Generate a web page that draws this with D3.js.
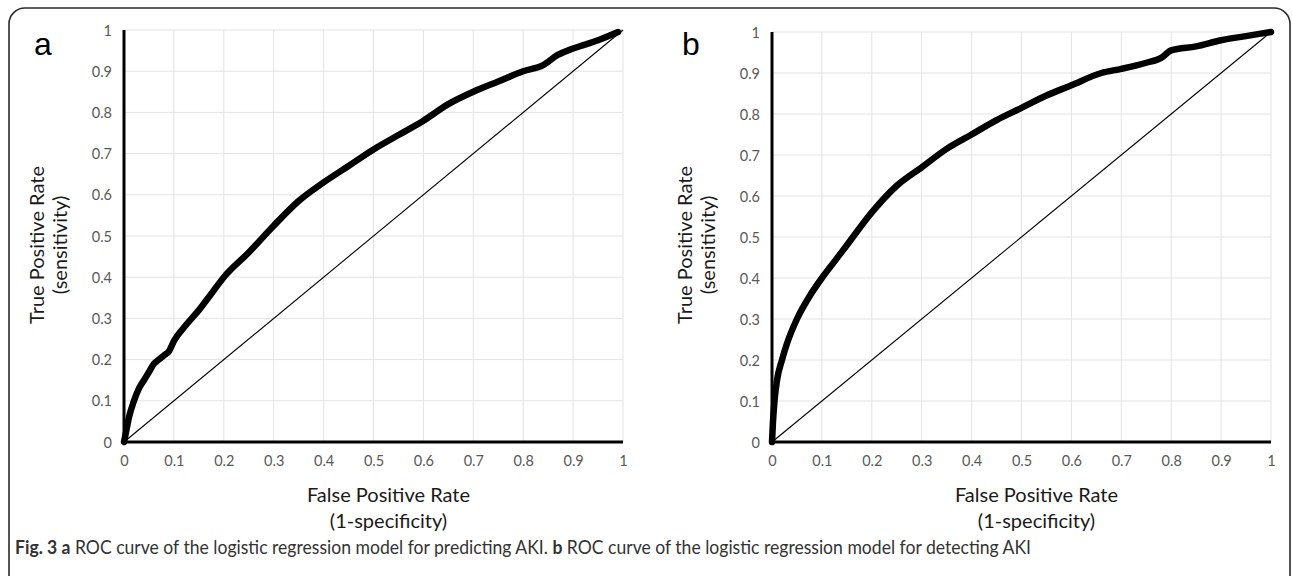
<!DOCTYPE html>
<html>
<head>
<meta charset="utf-8">
<script src="https://cdn.jsdelivr.net/npm/d3@7"></script>
<style>
	body { margin: 0; background: #fff; }
	svg { display: block; }
	.tick text { font-family: Lato, "Open Sans", sans-serif; font-size: 14.5px; fill: #595959; }
	.titre { font-family: Lato, "Open Sans", sans-serif; font-size: 20px; fill: #1a1a1a; }
</style>
</head>
<body>
<svg id="fig" width="1292" height="576"></svg>
<script>
"use strict";

// tick values shared by both axes
const graduations = [0, 0.1, 0.2, 0.3, 0.4, 0.5, 0.6, 0.7, 0.8, 0.9, 1];
const etiquettes = ["0", "0.1", "0.2", "0.3", "0.4", "0.5", "0.6", "0.7", "0.8", "0.9", "1"];

// panel a : predicting AKI
const fprA = [0, 0.005, 0.01, 0.02, 0.03, 0.04, 0.05, 0.06, 0.07, 0.08, 0.09, 0.1, 0.125, 0.15, 0.175, 0.2, 0.25, 0.3, 0.35, 0.4, 0.45, 0.5, 0.55, 0.6, 0.65, 0.7, 0.75, 0.8, 0.84, 0.87, 0.9, 0.95, 0.99];
const tprA = [0, 0.03, 0.06, 0.1, 0.13, 0.15, 0.17, 0.19, 0.2, 0.21, 0.22, 0.245, 0.285, 0.32, 0.36, 0.40, 0.46, 0.525, 0.585, 0.63, 0.67, 0.71, 0.745, 0.78, 0.82, 0.85, 0.875, 0.9, 0.915, 0.94, 0.955, 0.975, 0.995];

// panel b : detecting AKI
const fprB = [0, 0.002, 0.005, 0.01, 0.02, 0.03, 0.05, 0.075, 0.1, 0.125, 0.15, 0.2, 0.25, 0.3, 0.35, 0.4, 0.45, 0.5, 0.55, 0.6, 0.66, 0.7, 0.75, 0.78, 0.8, 0.85, 0.9, 0.95, 1];
const tprB = [0, 0.05, 0.1, 0.15, 0.2, 0.24, 0.3, 0.355, 0.4, 0.44, 0.48, 0.56, 0.625, 0.67, 0.715, 0.75, 0.785, 0.815, 0.845, 0.87, 0.9, 0.91, 0.925, 0.937, 0.955, 0.965, 0.98, 0.99, 1];

const svg = d3.select("#fig");

// cadre arrondi de la figure
svg.append("rect")
	.attr("x", 9).attr("y", 8)
	.attr("width", 1281).attr("height", 600)
	.attr("rx", 16)
	.attr("fill", "none")
	.attr("stroke", "#2b2b2b")
	.attr("stroke-width", 1.6);

function dessinerPanneau(p) {
	const x = d3.scaleLinear().domain([0, 1]).range([p.x0, p.x1]);
	const y = d3.scaleLinear().domain([0, 1]).range([p.y0, p.y1]);
	const g = svg.append("g");

// grilles
	g.append("g").selectAll("line")
	.data(graduations.slice(1))
	.enter()
		.append("line")
		.attr("x1", d => x(d)).attr("x2", d => x(d))
		.attr("y1", y(0)).attr("y2", y(1))
		.attr("stroke", "#e3e3e3").attr("stroke-width", 1);
	g.append("g").selectAll("line")
	.data(graduations.slice(1))
	.enter()
		.append("line")
		.attr("x1", x(0)).attr("x2", x(1))
		.attr("y1", d => y(d)).attr("y2", d => y(d))
		.attr("stroke", "#e3e3e3").attr("stroke-width", 1);

// axes
	const ax = g.append("g")
	.attr("transform", "translate(0," + y(0) + ")")
	.call(d3.axisBottom(x).tickValues(graduations)
		.tickFormat((d, i) => etiquettes[i]).tickSize(0).tickPadding(14));
	ax.select(".domain").remove();

	const ay = g.append("g")
	.attr("transform", "translate(" + x(0) + ",0)")
	.call(d3.axisLeft(y).tickValues(graduations)
		.tickFormat((d, i) => etiquettes[i]).tickSize(0).tickPadding(12));
	ay.select(".domain").remove();
	ay.selectAll(".tick text").attr("dy", "0.35em");

// diagonale
	g.append("line")
	.attr("x1", x(0)).attr("y1", y(0))
	.attr("x2", x(1)).attr("y2", y(1))
	.attr("stroke", "#000").attr("stroke-width", 1.1);

// courbe ROC
	const pts = p.fpr.map((v, i) => [v, p.tpr[i]]);
	g.append("path")
	.datum(pts)
	.attr("d", d3.line().x(d => x(d[0])).y(d => y(d[1])).curve(d3.curveMonotoneX))
	.attr("fill", "none")
	.attr("stroke", "#000")
	.attr("stroke-width", 6.5)
	.attr("stroke-linejoin", "round")
	.attr("stroke-linecap", "round");

// traits d'axe épais
	g.append("line")
	.attr("x1", x(0)).attr("x2", x(1)).attr("y1", y(0)).attr("y2", y(0))
	.attr("stroke", "#000").attr("stroke-width", 3);
	g.append("line")
	.attr("x1", x(0)).attr("x2", x(0)).attr("y1", y(0)).attr("y2", y(1))
	.attr("stroke", "#000").attr("stroke-width", 3);

// titres
	const mx = (p.x0 + p.x1) / 2 + 15;
	g.append("text").attr("class", "titre")
	.attr("x", mx).attr("y", 502).attr("text-anchor", "middle")
	.text("False Positive Rate");
	g.append("text").attr("class", "titre")
	.attr("x", mx).attr("y", 528).attr("text-anchor", "middle")
	.text("(1-specificity)");

	g.append("text").attr("class", "titre")
	.attr("transform", "translate(" + (p.x0 - 80) + ",245) rotate(-90)")
	.attr("text-anchor", "middle")
	.text("True Positive Rate");
	g.append("text").attr("class", "titre")
	.attr("transform", "translate(" + (p.x0 - 57) + ",245) rotate(-90)")
	.attr("text-anchor", "middle")
	.text("(sensitivity)");

	g.append("text")
	.attr("x", p.lx).attr("y", p.ly)
	.style("font-family", "'Liberation Sans', Arial, sans-serif")
	.style("font-size", "32px")
	.attr("fill", "#000")
	.text(p.lettre);
}

dessinerPanneau({ x0: 124, x1: 623, y0: 442, y1: 30, fpr: fprA, tpr: tprA, lettre: "a", lx: 34, ly: 55 });
dessinerPanneau({ x0: 772, x1: 1271, y0: 442, y1: 32, fpr: fprB, tpr: tprB, lettre: "b", lx: 682, ly: 55 });

// légende de la figure (police resserrée par une mise à l'échelle horizontale)
const leg = svg.append("text")
	.style("font-family", "Lato, 'Open Sans', sans-serif")
	.style("font-size", "18.5px")
	.attr("fill", "#333");
leg.append("tspan").style("font-weight", "bold").text("Fig. 3 a");
leg.append("tspan").text(" ROC curve of the logistic regression model for predicting AKI. ");
leg.append("tspan").style("font-weight", "bold").text("b");
leg.append("tspan").text(" ROC curve of the logistic regression model for detecting AKI");
const largeur = leg.node().getComputedTextLength();
leg.attr("transform", "translate(15,554) scale(" + (1017 / largeur) + ",1)");
</script>
</body>
</html>
